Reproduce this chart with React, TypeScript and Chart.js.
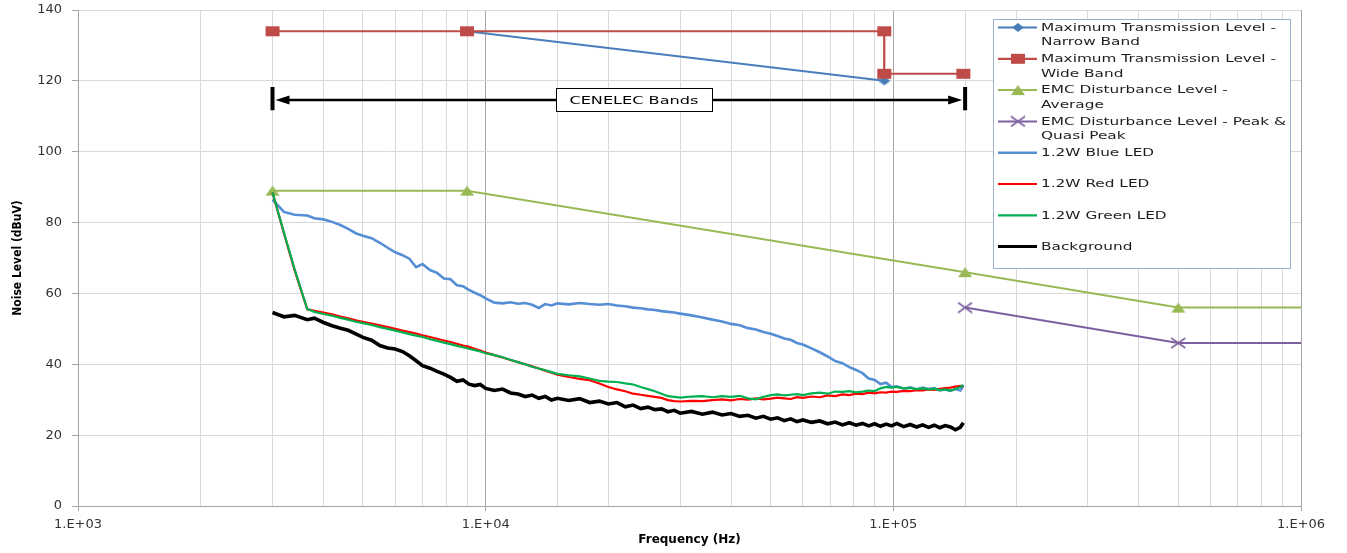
import React, { useEffect, useRef } from 'react';
import { Chart, registerables } from 'chart.js';

Chart.register(...registerables);

// ---------------- DATA ----------------
// Measured LED / background spectra (frequency in Hz, level in dBuV)
const freqHz = [
  3000, 3200, 3400, 3650, 3800, 4000, 4200, 4400, 4600, 4800,
  5000, 5250, 5500, 5750, 6000, 6250, 6500, 6750, 7000, 7300,
  7600, 7900, 8200, 8500, 8800, 9100, 9400, 9700, 10000, 10500,
  11000, 11500, 12000, 12500, 13000, 13500, 14000, 14500, 15000, 16000,
  17000, 18000, 19000, 20000, 21000, 22000, 23000, 24000, 25000, 26000,
  27000, 28000, 29000, 30000, 32000, 34000, 36000, 38000, 40000, 42000,
  44000, 46000, 48000, 50000, 52000, 54000, 56000, 58000, 60000, 63000,
  66000, 69000, 72000, 75000, 78000, 81000, 84000, 87000, 90000, 93000,
  96000, 99000, 102000, 106000, 110000, 114000, 118000, 122000, 126000, 130000,
  134000, 138000, 142000, 146000, 148500,
];

const blueLed = [
  86.5, 83.0, 82.2, 82.0, 81.2, 80.9, 80.2, 79.3, 78.2, 77.0,
  76.3, 75.6, 74.3, 72.9, 71.6, 70.8, 69.8, 67.4, 68.3, 66.6,
  65.8, 64.2, 64.0, 62.3, 62.0, 61.0, 60.2, 59.5, 58.6, 57.4,
  57.2, 57.5, 57.1, 57.3, 56.8, 55.9, 57.0, 56.6, 57.2, 56.9,
  57.3, 57.0, 56.8, 57.0, 56.6, 56.4, 56.0, 55.8, 55.5, 55.3,
  55.0, 54.8, 54.6, 54.3, 53.8, 53.2, 52.6, 52.1, 51.4, 51.0,
  50.2, 49.8, 49.1, 48.6, 48.0, 47.3, 46.9, 46.0, 45.6, 44.5,
  43.4, 42.2, 40.9, 40.3, 39.2, 38.4, 37.5, 36.0, 35.6, 34.4,
  34.8, 33.6, 33.8, 33.1, 33.5, 32.9, 33.4, 33.0, 33.3, 32.6,
  32.9, 32.5, 33.0, 32.6, 33.9,
];

const redLed = [
  88.5, 77.0, 66.5, 55.5, 55.1, 54.6, 54.1, 53.5, 53.0, 52.4,
  52.0, 51.5, 51.0, 50.5, 50.0, 49.5, 49.1, 48.7, 48.2, 47.7,
  47.2, 46.7, 46.3, 45.8, 45.3, 44.9, 44.4, 43.9, 43.3, 42.6,
  41.9, 41.2, 40.6, 40.0, 39.4, 38.8, 38.2, 37.6, 37.1, 36.4,
  35.9, 35.5, 34.6, 33.6, 32.9, 32.4, 31.7, 31.4, 31.1, 30.8,
  30.5, 29.9, 29.6, 29.5, 29.7, 29.6, 29.9, 30.1, 29.8, 30.2,
  30.0, 30.4, 30.1, 30.3, 30.6, 30.4, 30.2, 30.7, 30.5, 30.9,
  30.7, 31.2, 31.0, 31.5, 31.3, 31.7, 31.6, 32.0, 31.8, 32.1,
  32.0, 32.3, 32.2, 32.5, 32.4, 32.7, 32.6, 32.9, 32.8, 33.1,
  33.3, 33.4, 33.7, 33.9, 33.8,
];

const greenLed = [
  88.5, 77.2, 66.8, 55.6, 54.8, 54.2, 53.7, 53.1, 52.6, 52.0,
  51.6, 51.1, 50.5, 50.0, 49.5, 49.0, 48.5, 48.1, 47.7, 47.1,
  46.6, 46.1, 45.7, 45.2, 44.8, 44.4, 44.0, 43.6, 43.1, 42.6,
  42.0, 41.3, 40.6, 40.0, 39.3, 38.8, 38.3, 37.8, 37.3, 36.9,
  36.6, 36.0, 35.3, 35.1, 35.0, 34.6, 34.3, 33.6, 33.0, 32.4,
  31.7, 31.0, 30.8, 30.6, 30.9, 31.0, 30.7, 31.0, 30.8, 31.1,
  30.4, 30.1, 30.8, 31.3, 31.5, 31.2, 31.4, 31.6, 31.3, 31.8,
  32.0, 31.7, 32.3, 32.2, 32.4, 32.1, 32.3, 32.6, 32.4, 33.2,
  33.6, 33.4, 33.6, 33.2, 33.3, 33.0, 33.2, 32.9, 33.1, 32.7,
  32.9, 32.6, 33.0, 33.6, 34.2,
];

const background = [
  54.6, 53.4, 53.8, 52.6, 53.0, 51.8, 50.9, 50.2, 49.6, 48.6,
  47.6, 46.8, 45.3, 44.6, 44.3, 43.6, 42.4, 41.0, 39.6, 38.9,
  38.0, 37.2, 36.3, 35.2, 35.6, 34.4, 34.0, 34.3, 33.2, 32.6,
  33.0, 31.9, 31.6, 30.9, 31.3, 30.4, 30.9, 29.9, 30.4, 29.8,
  30.3, 29.2, 29.6, 28.8, 29.2, 28.0, 28.5, 27.5, 27.9, 27.2,
  27.4, 26.6, 27.0, 26.2, 26.7, 25.9, 26.5, 25.7, 26.1, 25.3,
  25.6, 24.8, 25.3, 24.5, 24.9, 24.1, 24.6, 23.8, 24.3, 23.6,
  24.0, 23.2, 23.7, 22.9, 23.5, 22.8, 23.3, 22.6, 23.2, 22.5,
  23.1, 22.6, 23.3, 22.4, 23.0, 22.3, 22.9, 22.2, 22.8, 22.1,
  22.7, 22.3, 21.5, 22.2, 23.5,
];

// Limit lines
const narrowFreq = [9000, 95000];
const narrowLevel = [134, 120];
const wideFreq = [3000, 9000, 95000, 95000, 148500];
const wideLevel = [134, 134, 134, 122, 122];
const emcAvgFreq = [3000, 9000, 150000, 500000, 1000000];
const emcAvgLevel = [89, 89, 66, 56, 56];
const emcPeakFreq = [150000, 500000, 1000000];
const emcPeakLevel = [56, 46, 46];

// Legend labels (wrapped as in the reference)
const legendLines: string[][] = [
  ['Maximum Transmission Level -', 'Narrow Band'],
  ['Maximum Transmission Level -', 'Wide Band'],
  ['EMC Disturbance Level -', 'Average'],
  ['EMC Disturbance Level - Peak &', 'Quasi Peak'],
  ['1.2W Blue LED'],
  ['1.2W Red LED'],
  ['1.2W Green LED'],
  ['Background'],
];

// Axis ticks / titles
const xTickValues = [1000, 10000, 100000, 1000000];
const xTickLabels = ['1.E+03', '1.E+04', '1.E+05', '1.E+06'];
const yTickStep = 20;
const yMin = 0;
const yMax = 140;
const xTitle = 'Frequency (Hz)';
const yTitle = 'Noise Level (dBuV)';

// CENELEC band annotation
const bandLabel = 'CENELEC Bands';
const bandStart = 3000;
const bandEnd = 150000;
const bandArrowLevel = 114.6;
const bandBarTop = 118.3;
const bandBarBottom = 111.7;
const bandLabelFreq = 23100;

// ---------------- STYLE ----------------
const FONT = '"DejaVu Sans", "Liberation Sans", sans-serif';
const COND = '"DejaVu Sans Condensed", "Liberation Sans Narrow", "DejaVu Sans", sans-serif';

type MarkerKind = 'diamond' | 'rect' | 'triangle' | 'cross' | 'none';
const seriesStyle: { color: string; width: number; marker: MarkerKind }[] = [
  { color: '#4A7EBB', width: 2, marker: 'diamond' },
  { color: '#BE4B48', width: 2.2, marker: 'rect' },
  { color: '#98B954', width: 2, marker: 'triangle' },
  { color: '#7D60A0', width: 2, marker: 'cross' },
  { color: '#558ED5', width: 2.6, marker: 'none' },
  { color: '#FF0000', width: 2.2, marker: 'none' },
  { color: '#00B050', width: 2.2, marker: 'none' },
  { color: '#000000', width: 3.6, marker: 'none' },
];

function makeMarker(kind: MarkerKind, color: string): HTMLCanvasElement | undefined {
  if (kind === 'none') return undefined;
  const dims: Record<string, [number, number]> = {
    diamond: [12, 9],
    rect: [14, 10],
    triangle: [14, 10],
    cross: [14, 10],
  };
  const [w, h] = dims[kind];
  const c = document.createElement('canvas');
  c.width = w + 2;
  c.height = h + 2;
  const g = c.getContext('2d')!;
  g.translate(1, 1);
  g.fillStyle = color;
  g.strokeStyle = color;
  g.beginPath();
  if (kind === 'rect') {
    g.fillRect(0, 0, w, h);
  } else if (kind === 'diamond') {
    g.moveTo(w / 2, 0);
    g.lineTo(w, h / 2);
    g.lineTo(w / 2, h);
    g.lineTo(0, h / 2);
    g.closePath();
    g.fill();
  } else if (kind === 'triangle') {
    g.moveTo(w / 2, 0);
    g.lineTo(w, h);
    g.lineTo(0, h);
    g.closePath();
    g.fill();
  } else if (kind === 'cross') {
    g.lineWidth = 1.6;
    g.moveTo(0, 0);
    g.lineTo(w, h);
    g.moveTo(w, 0);
    g.lineTo(0, h);
    g.stroke();
  }
  return c;
}

function isDecade(v: number | undefined): boolean {
  if (v === undefined || v <= 0) return false;
  const e = Math.log10(v);
  return Math.abs(e - Math.round(e)) < 1e-6;
}

const App: React.FC = () => {
  const canvasRef = useRef<HTMLCanvasElement | null>(null);

  useEffect(() => {
    if (!canvasRef.current) return;
    const markers = seriesStyle.map((s) => makeMarker(s.marker, s.color));

    const toXY = (xs: number[], ys: number[]) => xs.map((x, i) => ({ x, y: ys[i] }));
    const seriesData = [
      toXY(narrowFreq, narrowLevel),
      toXY(wideFreq, wideLevel),
      toXY(emcAvgFreq, emcAvgLevel),
      toXY(emcPeakFreq, emcPeakLevel),
      toXY(freqHz, blueLed),
      toXY(freqHz, redLed),
      toXY(freqHz, greenLed),
      toXY(freqHz, background),
    ];

    const datasets = seriesData.map((data, i) => {
      const st = seriesStyle[i];
      const m = markers[i];
      let radius: number | number[] = 0;
      if (m) {
        radius = data.map((p) => (p.x >= 1000000 ? 0 : 5));
      }
      return {
        label: legendLines[i].join(' '),
        data,
        showLine: true,
        borderColor: st.color,
        backgroundColor: st.color,
        borderWidth: st.width,
        pointRadius: radius,
        pointHoverRadius: 0,
        pointStyle: m ? (m as any) : 'circle',
        tension: 0,
        fill: false,
        order: -i,
        clip: 8,
      };
    });

    const overlay = {
      id: 'overlay',
      afterDatasetsDraw(chart: any) {
        const { ctx, scales } = chart;
        const xs = scales.x;
        const ys = scales.y;
        const x0 = xs.getPixelForValue(bandStart);
        const x1 = xs.getPixelForValue(bandEnd);
        const yA = ys.getPixelForValue(bandArrowLevel);
        const yT = ys.getPixelForValue(bandBarTop);
        const yB = ys.getPixelForValue(bandBarBottom);
        ctx.save();
        ctx.strokeStyle = '#000';
        ctx.fillStyle = '#000';
        // shaft
        ctx.lineWidth = 2.5;
        ctx.beginPath();
        ctx.moveTo(x0 + 12, yA);
        ctx.lineTo(x1 - 12, yA);
        ctx.stroke();
        // arrow heads
        ctx.beginPath();
        ctx.moveTo(x0 + 3, yA);
        ctx.lineTo(x0 + 17, yA - 4.5);
        ctx.lineTo(x0 + 17, yA + 4.5);
        ctx.closePath();
        ctx.fill();
        ctx.beginPath();
        ctx.moveTo(x1 - 3, yA);
        ctx.lineTo(x1 - 17, yA - 4.5);
        ctx.lineTo(x1 - 17, yA + 4.5);
        ctx.closePath();
        ctx.fill();
        // end bars
        ctx.lineWidth = 4;
        ctx.beginPath();
        ctx.moveTo(x0, yT);
        ctx.lineTo(x0, yB);
        ctx.moveTo(x1, yT);
        ctx.lineTo(x1, yB);
        ctx.stroke();
        // label box
        const cx = xs.getPixelForValue(bandLabelFreq);
        const bw = 156;
        const bh = 23;
        ctx.fillStyle = '#fff';
        ctx.fillRect(Math.round(cx - bw / 2) + 0.5, Math.round(yA - bh / 2) + 0.5, bw, bh);
        ctx.lineWidth = 1;
        ctx.strokeStyle = '#000';
        ctx.strokeRect(Math.round(cx - bw / 2) + 0.5, Math.round(yA - bh / 2) + 0.5, bw, bh);
        ctx.font = `11px ${FONT}`;
        const sx = 129 / ctx.measureText(bandLabel).width;
        ctx.fillStyle = '#000';
        ctx.textAlign = 'center';
        ctx.textBaseline = 'middle';
        ctx.translate(cx, yA + 1);
        ctx.scale(sx, 1);
        ctx.fillText(bandLabel, 0, 0);
        ctx.restore();
      },
      afterDraw(chart: any) {
        const { ctx, chartArea } = chart;
        ctx.save();
        // axis titles
        ctx.fillStyle = '#000';
        ctx.textAlign = 'center';
        ctx.textBaseline = 'middle';
        ctx.font = `bold 12px ${FONT}`;
        ctx.fillText(xTitle, (chartArea.left + chartArea.right) / 2, 540);
        ctx.save();
        ctx.translate(18, (chartArea.top + chartArea.bottom) / 2);
        ctx.rotate(-Math.PI / 2);
        ctx.font = `bold 12px ${COND}`;
        ctx.fillText(yTitle, 0, 0);
        ctx.restore();

        // legend
        const L = { left: 993, top: 19, right: 1290, bottom: 268 };
        ctx.fillStyle = '#fff';
        ctx.fillRect(L.left, L.top, L.right - L.left, L.bottom - L.top);
        ctx.strokeStyle = '#9DB0CF';
        ctx.lineWidth = 1;
        ctx.strokeRect(L.left + 0.5, L.top + 0.5, L.right - L.left, L.bottom - L.top);
        ctx.font = `11px ${FONT}`;
        const sx = 235 / ctx.measureText(legendLines[0][0]).width;
        ctx.textAlign = 'left';
        ctx.textBaseline = 'middle';
        legendLines.forEach((lines, i) => {
          const yy = 27.5 + i * 31.3;
          const st = seriesStyle[i];
          ctx.strokeStyle = st.color;
          ctx.lineWidth = Math.min(st.width, 3);
          ctx.beginPath();
          ctx.moveTo(998, yy);
          ctx.lineTo(1037, yy);
          ctx.stroke();
          const m = markers[i];
          if (m) ctx.drawImage(m, 1018 - m.width / 2, yy - m.height / 2);
          ctx.fillStyle = '#1e1e1e';
          lines.forEach((t, j) => {
            ctx.save();
            ctx.translate(1041, yy + 0.5 + j * 14.6);
            ctx.scale(sx, 1);
            ctx.fillText(t, 0, 0);
            ctx.restore();
          });
        });
        ctx.restore();
      },
    };

    const chart = new Chart(canvasRef.current, {
      type: 'scatter',
      data: { datasets: datasets as any },
      options: {
        responsive: false,
        animation: false,
        devicePixelRatio: 1,
        events: [],
        layout: { padding: { top: 10, right: 46, left: 0, bottom: 0 } },
        plugins: {
          legend: { display: false },
          tooltip: { enabled: false },
        },
        scales: {
          x: {
            type: 'logarithmic',
            min: 1000,
            max: 1000000,
            afterFit: (s: any) => {
              s.height = 47;
              s.paddingLeft = 0;
              s.paddingRight = 0;
            },
            border: { display: true, color: '#A6A6A6', width: 1 },
            grid: {
              color: (c: any) => (isDecade(c.tick?.value) ? '#A6A6A6' : '#D9D9D9'),
              tickColor: (c: any) => (isDecade(c.tick?.value) ? '#A6A6A6' : 'rgba(0,0,0,0)'),
              tickLength: 5,
              lineWidth: 1,
            },
            ticks: {
              autoSkip: false,
              maxRotation: 0,
              minRotation: 0,
              padding: 6,
              color: '#333333',
              font: { family: FONT, size: 13 },
              callback: (v: any) => {
                const n = Number(v);
                const idx = xTickValues.findIndex((t) => Math.abs(t - n) / t < 1e-6);
                return idx >= 0 ? xTickLabels[idx] : '';
              },
            },
          },
          y: {
            type: 'linear',
            min: yMin,
            max: yMax,
            afterFit: (s: any) => {
              s.width = 78;
              s.paddingTop = 0;
              s.paddingBottom = 0;
            },
            border: { display: true, color: '#A6A6A6', width: 1 },
            grid: { color: '#D9D9D9', tickColor: '#A6A6A6', tickLength: 6, lineWidth: 1 },
            ticks: {
              stepSize: yTickStep,
              padding: 10,
              color: '#333333',
              font: { family: FONT, size: 13 },
            },
          },
        },
      } as any,
      plugins: [overlay as any],
    });

    return () => {
      chart.destroy();
    };
  }, []);

  return (
    <div style={{ position: 'absolute', left: 0, top: 0, width: 1347, height: 553, background: '#fff' }}>
      <canvas ref={canvasRef} width={1347} height={553} style={{ display: 'block' }} />
    </div>
  );
};

export default App;
